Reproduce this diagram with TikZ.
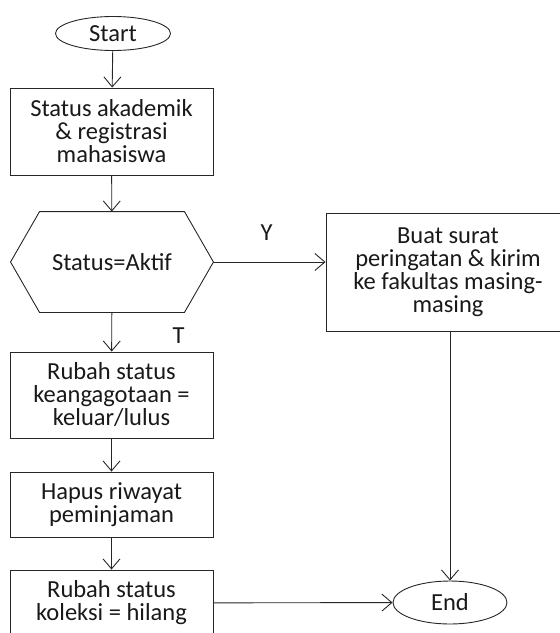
\documentclass[tikz,border=0pt]{standalone}
\usepackage{fontspec}
\setmainfont{Carlito}
\usetikzlibrary{shapes.geometric, arrows.meta}
\begin{document}
\begin{tikzpicture}[x=1pt, y=1pt, line width=0.9pt, draw=black!85, text=black!90,
    font=\fontsize{24.5}{23}\selectfont,
    >={Straight Barb[length=10pt, width=17pt]},
    terminal/.style={draw, ellipse, inner sep=0pt},
    proses/.style={draw, rectangle, align=center, minimum width=203pt},
    keputusan/.style={rectangle, minimum width=202pt, minimum height=100pt}]
    \useasboundingbox (0,0) rectangle (560,-633);
    \clip (0,0) rectangle (560,-633);
    \node[terminal, minimum width=115pt, minimum height=34pt] (start) at (113,-33.5) {Start};
    \node[proses, minimum height=87pt] (akademik) at (111.5,-131.5) {Status akademik\\ \& registrasi\\ mahasiswa};
    \node[keputusan] (aktif) at (112,-262) {Status=Aktif};
    \draw (aktif.west) -- ([xshift=29pt]aktif.north west) -- ([xshift=-29pt]aktif.north east)
        -- (aktif.east) -- ([xshift=-29pt]aktif.south east) -- ([xshift=29pt]aktif.south west) -- cycle;
    \node[proses, minimum width=244pt, minimum height=118pt] (surat) at (448,-272) {Buat surat\\ peringatan \& kirim\\ ke fakultas masing-\\ masing};
    \node[proses, minimum height=86pt] (anggota) at (111.5,-395) {Rubah status\\ keangagotaan =\\ keluar/lulus};
    \node[proses, minimum height=65pt] (riwayat) at (111.5,-504.5) {Hapus riwayat\\ peminjaman};
    \node[proses, minimum height=66pt] (koleksi) at (111.5,-603) {Rubah status\\ koleksi = hilang};
    \node[terminal, minimum width=114pt, minimum height=43pt] (end) at (450,-602.5) {End};
    \draw[->] (start) -- (akademik);
    \draw[->] (akademik) -- (aktif);
    \draw[->] (aktif) -- node[midway, above=18pt, xshift=-3pt] {Y} (surat.west |- aktif);
    \draw[->] (aktif) -- node[midway, right=57pt, yshift=-4pt] {T} (anggota);
    \draw[->] (anggota) -- (riwayat);
    \draw[->] (riwayat) -- (koleksi);
    \draw[->] (koleksi) -- (end);
    \draw[->] (surat.south -| end) -- (end);
\end{tikzpicture}
\end{document}
